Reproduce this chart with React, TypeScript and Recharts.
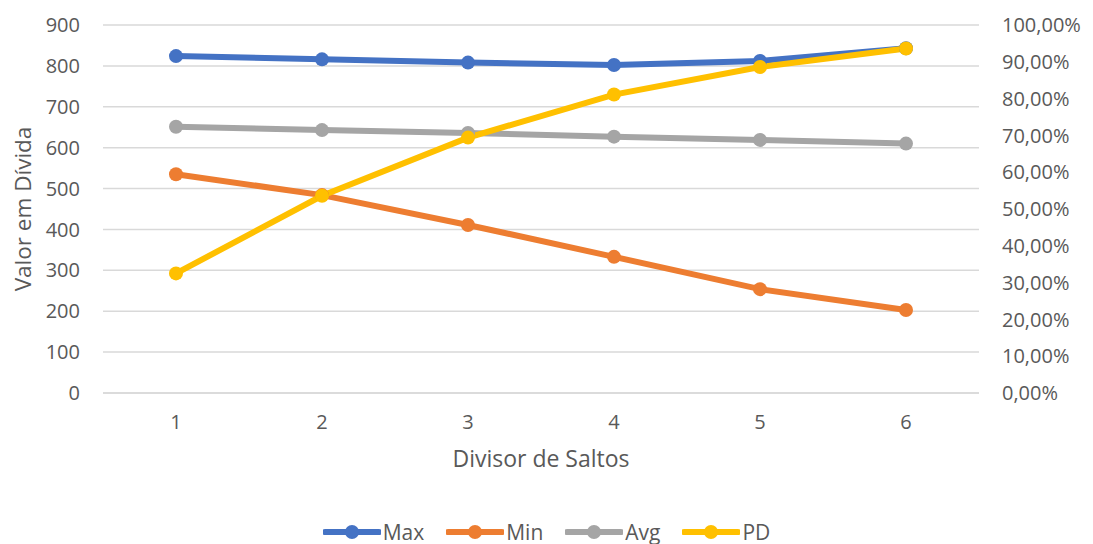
import React from "react";
import {
  LineChart,
  Line,
  XAxis,
  YAxis,
  CartesianGrid,
  Legend,
} from "recharts";

const divisors = ["1", "2", "3", "4", "5", "6"];
const maxValues = [824, 816, 808, 802, 812, 843];
const minValues = [535, 484, 411, 333, 254, 203];
const avgValues = [651, 643, 636, 627, 619, 610];
const pdValues = [32.5, 53.6, 69.4, 81.1, 88.6, 93.6];

const leftTicks = [0, 100, 200, 300, 400, 500, 600, 700, 800, 900];
const rightTicks = [0, 10, 20, 30, 40, 50, 60, 70, 80, 90, 100];

const data = divisors.map((d, i) => ({
  divisor: d,
  Max: maxValues[i],
  Min: minValues[i],
  Avg: avgValues[i],
  PD: pdValues[i],
}));

const FONT = "'Open Sans', Lato, sans-serif";
const INK = "#595959";
const GRID = "#d9d9d9";

const series = [
  { key: "Max", color: "#4472c4", axis: "left" },
  { key: "Min", color: "#ed7d31", axis: "left" },
  { key: "Avg", color: "#a5a5a5", axis: "left" },
  { key: "PD", color: "#ffc000", axis: "right" },
];

const pct = (v: number) => v.toFixed(2).replace(".", ",") + "%";

// legend keeps the series order instead of the alphabetical default
function LegendRow({ payload }: any) {
  const items = [...(payload || [])].sort(
    (a: any, b: any) =>
      series.findIndex((s) => s.key === a.value) -
      series.findIndex((s) => s.key === b.value)
  );
  return (
    <div
      style={{
        display: "flex",
        justifyContent: "center",
        gap: 22,
        fontFamily: FONT,
        fontSize: 21,
        color: INK,
        height: 24,
        alignItems: "center",
      }}
    >
      {items.map((p: any) => (
        <div key={p.value} style={{ display: "flex", alignItems: "center" }}>
          <svg width={58} height={16}>
            <line
              x1={2}
              y1={8}
              x2={56}
              y2={8}
              stroke={p.color}
              strokeWidth={6}
              strokeLinecap="round"
            />
            <circle cx={29} cy={8} r={7} fill={p.color} />
          </svg>
          <span style={{ marginLeft: 2 }}>{p.value}</span>
        </div>
      ))}
    </div>
  );
}

function LeftTitle({ viewBox }: any) {
  const cx = 22;
  const cy = viewBox.y + viewBox.height / 2;
  return (
    <text
      x={cx}
      y={cy}
      transform={`rotate(-90 ${cx} ${cy})`}
      textAnchor="middle"
      dominantBaseline="central"
      fill={INK}
      fontFamily={FONT}
      fontSize={22.5}
    >
      Valor em Dívida
    </text>
  );
}

export default function App() {
  return (
    <div style={{ position: "absolute", left: 0, top: 0, background: "#fff" }}>
      <LineChart
        width={1093}
        height={544}
        data={data}
        margin={{ top: 25, right: 0, bottom: 0, left: 0 }}
      >
        <CartesianGrid
          yAxisId="left"
          vertical={false}
          stroke={GRID}
          strokeWidth={1.5}
        />
        <XAxis
          dataKey="divisor"
          padding={{ left: 73, right: 73 }}
          tickLine={false}
          axisLine={{ stroke: GRID, strokeWidth: 1.5 }}
          tick={{ fill: INK, fontFamily: FONT, fontSize: 20 }}
          tickMargin={16}
          height={127}
          label={{
            value: "Divisor de Saltos",
            position: "insideTop",
            offset: 58,
            fill: INK,
            fontFamily: FONT,
            fontSize: 23,
          }}
        />
        <YAxis
          yAxisId="left"
          width={103}
          domain={[0, 900]}
          ticks={leftTicks}
          tickLine={false}
          axisLine={false}
          tick={{ fill: INK, fontFamily: FONT, fontSize: 20 }}
          tickMargin={17}
          label={<LeftTitle />}
        />
        <YAxis
          yAxisId="right"
          orientation="right"
          width={114}
          domain={[0, 100]}
          ticks={rightTicks}
          tickFormatter={pct}
          tickLine={false}
          axisLine={false}
          tick={{ fill: INK, fontFamily: FONT, fontSize: 20, textAnchor: "start" }}
          tickMargin={17}
        />
        <Legend verticalAlign="bottom" height={24} content={<LegendRow />} />
        {series.map((s) => (
          <Line
            key={s.key}
            yAxisId={s.axis}
            dataKey={s.key}
            stroke={s.color}
            strokeWidth={6}
            dot={{ r: 7, fill: s.color, stroke: s.color, strokeWidth: 0 }}
            activeDot={false}
            isAnimationActive={false}
          />
        ))}
      </LineChart>
    </div>
  );
}
